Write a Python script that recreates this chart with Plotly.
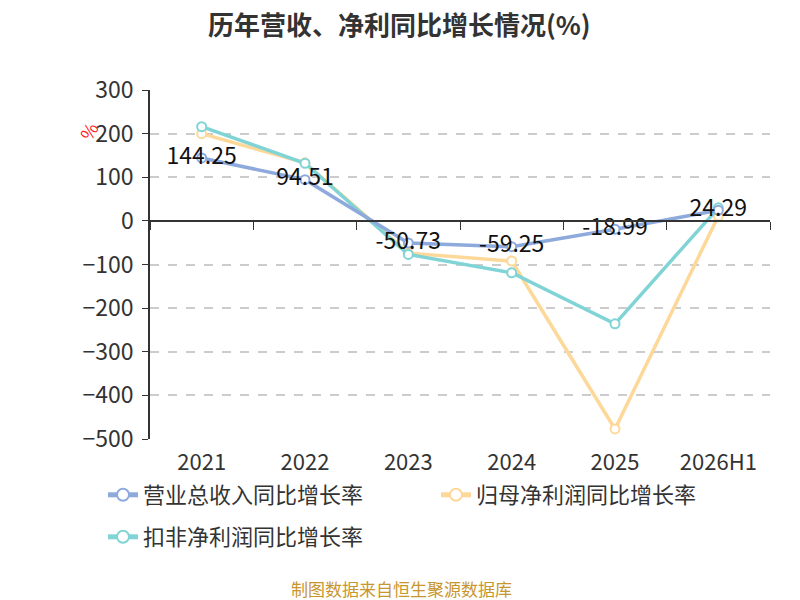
import plotly.graph_objects as go

categories = ["2021", "2022", "2023", "2024", "2025", "2026H1"]
revenue_growth = [144.25, 94.51, -50.73, -59.25, -18.99, 24.29]
net_profit_growth = [200.0, 133.0, -74.0, -92.0, -477.0, 11.0]
deducted_profit_growth = [216.0, 132.0, -77.0, -119.0, -236.0, 30.0]
revenue_labels = ["144.25", "94.51", "-50.73", "-59.25", "-18.99", "24.29"]

series_names = ["营业总收入同比增长率", "归母净利润同比增长率", "扣非净利润同比增长率"]
colors = ["#8eaadc", "#fdd899", "#80d4d6"]

font_family = "Noto Sans CJK SC, Noto Sans, sans-serif"

# page body has an 8px default margin, so the figure is laid out 8px smaller
W, H = 792, 592

fig = go.Figure()

fig.add_trace(go.Scatter(
    x=categories, y=net_profit_growth, name=series_names[1],
    mode="lines+markers",
    line=dict(color=colors[1], width=3.5),
    marker=dict(symbol="circle", size=9, color="white", line=dict(color=colors[1], width=2)),
    legendrank=2, legend="legend",
))
fig.add_trace(go.Scatter(
    x=categories, y=deducted_profit_growth, name=series_names[2],
    mode="lines+markers",
    line=dict(color=colors[2], width=3.5),
    marker=dict(symbol="circle", size=9, color="white", line=dict(color=colors[2], width=2)),
    legendrank=3, legend="legend2",
))
fig.add_trace(go.Scatter(
    x=categories, y=revenue_growth, name=series_names[0],
    mode="lines+markers+text",
    text=revenue_labels, textposition="middle center",
    textfont=dict(size=23, color="#111111", family=font_family),
    line=dict(color=colors[0], width=3.5),
    marker=dict(symbol="circle", size=9, color="white", line=dict(color=colors[0], width=2)),
    legendrank=1, legend="legend",
))
# invisible trace on the zero-line axis for ticks at category boundaries
fig.add_trace(go.Scatter(
    x=categories, y=[0] * len(categories), xaxis="x2", yaxis="y",
    mode="markers", marker=dict(opacity=0), showlegend=False, hoverinfo="skip",
))

legend_common = dict(
    orientation="h", xref="paper", yref="paper",
    xanchor="left", yanchor="middle",
    font=dict(size=22, color="#333333"),
    entrywidth=288, entrywidthmode="pixels",
    traceorder="normal", itemsizing="constant",
)

fig.update_layout(
    width=W, height=H,
    paper_bgcolor="white", plot_bgcolor="white",
    margin=dict(l=142, r=30, t=82, b=161, autoexpand=False),
    font=dict(family=font_family, color="#333333"),
    title=dict(text="<b>历年营收、净利同比增长情况(%)</b>", x=0.494, xanchor="center",
               y=1 - 18 / H, yanchor="middle", font=dict(size=26, color="#333333")),
    xaxis=dict(
        type="category", showline=False, ticks="", showgrid=False, zeroline=False,
        tickfont=dict(size=22, color="#333333"), range=[-0.5, 5.5],
        ticklabelstandoff=8,
    ),
    xaxis2=dict(
        type="category", overlaying="x", anchor="free", position=0.625, side="bottom",
        showline=True, linecolor="#333333", linewidth=1.5,
        ticks="outside", tickson="boundaries", ticklen=8, tickcolor="#333333",
        showticklabels=False, showgrid=False, range=[-0.5, 5.5],
    ),
    yaxis=dict(
        range=[-500, 300], dtick=100, tick0=0,
        showline=True, linecolor="#333333", linewidth=1.5,
        ticks="outside", ticklen=6, tickcolor="#333333",
        ticklabelstandoff=4,
        showgrid=True, gridcolor="#cccccc", griddash="dash", gridwidth=1.5,
        zeroline=False,
        tickfont=dict(size=23, color="#333333"),
    ),
    legend=dict(legend_common, x=(103 - 150) / 620, y=(439 - 495) / 349),
    legend2=dict(legend_common, x=(103 - 150) / 620, y=(439 - 537) / 349),
    showlegend=True,
)

fig.add_annotation(
    text="%", xref="paper", yref="paper",
    x=(88 - 150) / 620, y=(439 - 131) / 349, xanchor="center", yanchor="middle",
    showarrow=False,
    textangle=-60, font=dict(size=18, color="#ff2222", family=font_family),
)
fig.add_annotation(
    text="制图数据来自恒生聚源数据库", xref="paper", yref="paper",
    x=(401 - 150) / 620, y=(439 - 588) / 349, xanchor="center", yanchor="middle",
    showarrow=False,
    font=dict(size=17, color="#c8962e", family=font_family),
)

fig.write_html("out.html")
